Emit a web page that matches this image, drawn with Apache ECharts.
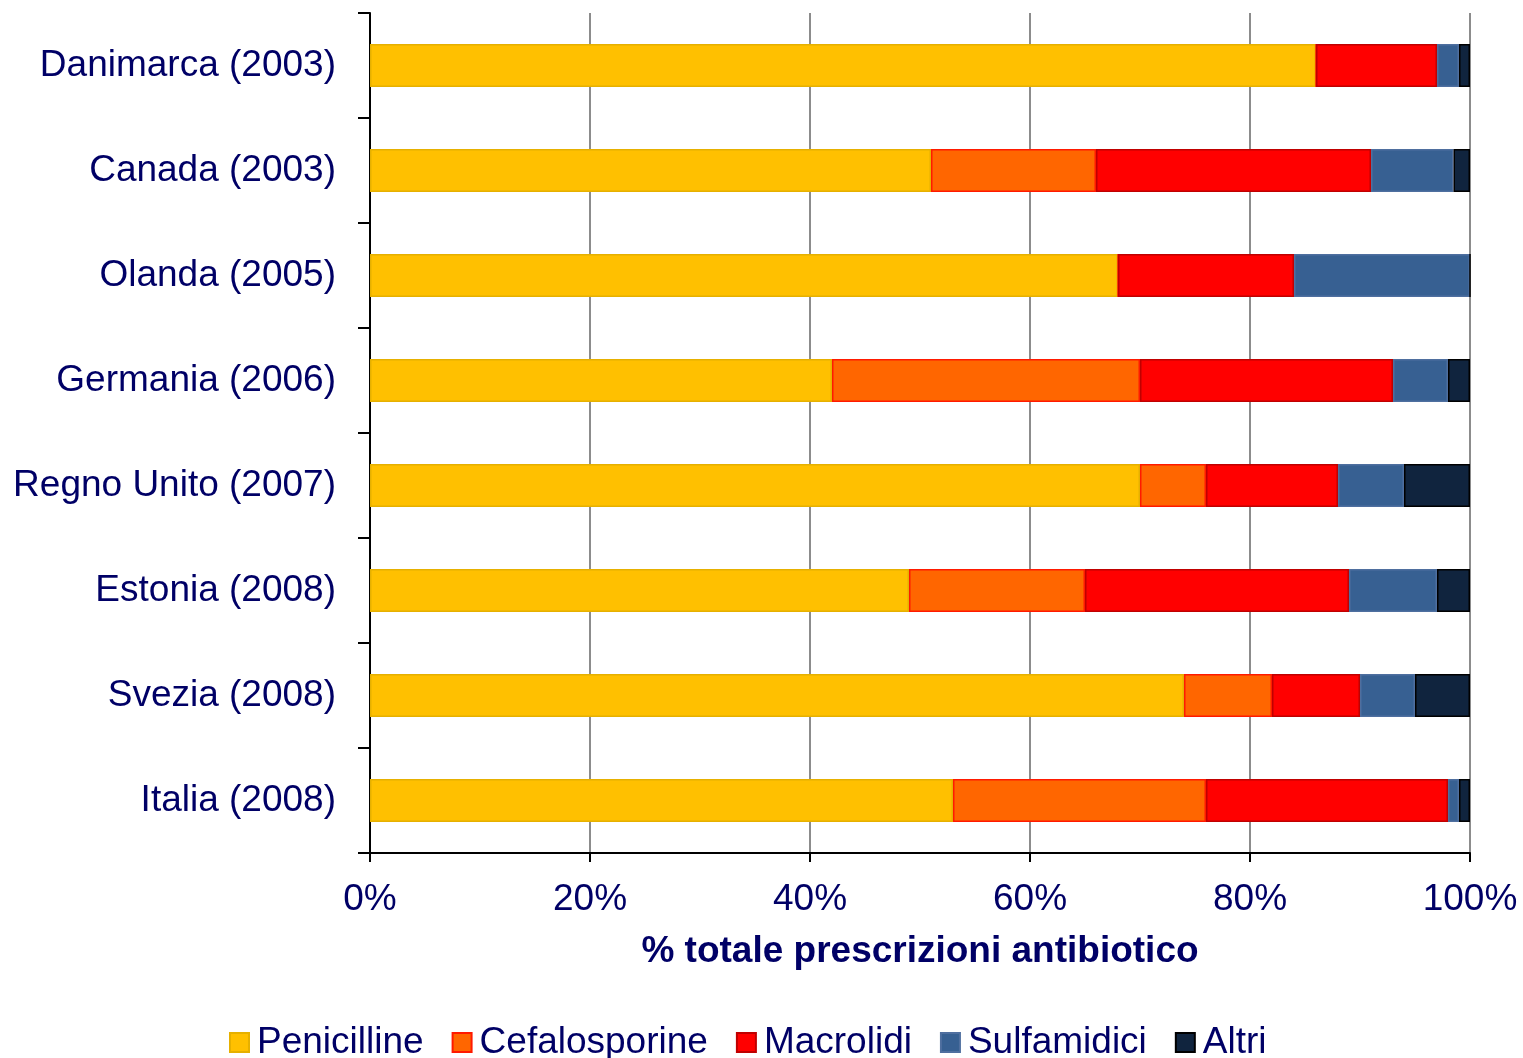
<!DOCTYPE html>
<html>
<head>
<meta charset="utf-8">
<script src="https://cdn.jsdelivr.net/npm/echarts@6/dist/echarts.min.js"></script>
<style>
  html, body { margin: 0; padding: 0; background: #fff; }
  #chart { width: 1523px; height: 1058px; }
</style>
</head>
<body>
<div id="chart"></div>
<script>
// categories, top to bottom
const paesi = ['Danimarca (2003)', 'Canada (2003)', 'Olanda (2005)', 'Germania (2006)',
  'Regno Unito (2007)', 'Estonia (2008)', 'Svezia (2008)', 'Italia (2008)']

// % of total prescriptions per class
const penicilline   = [86, 51, 68, 42, 70, 49, 74, 53]
const cefalosporine = [0, 15, 0, 28, 6, 16, 8, 23]
const macrolidi     = [11, 25, 16, 23, 12, 24, 8, 22]
const sulfamidici   = [2, 7.5, 16, 5, 6, 8, 5, 1]
const altri         = [1, 1.5, 0, 2, 6, 3, 5, 1]

const xTicks = [0, 20, 40, 60, 80, 100]

const fontFam = 'Liberation Sans, Arial, sans-serif'
const navy = '#000066'
const fs = 37

function serie (name, data, color, border) {
  return {
    name: name,
    type: 'bar',
    stack: 'tot',
    barWidth: 43,
    data: data,
    itemStyle: { color: color, borderColor: border, borderWidth: 1.5 }
  }
}

const chart = echarts.init(document.getElementById('chart'))
chart.setOption({
  animation: false,
  textStyle: { fontFamily: fontFam },
  grid: { left: 370, right: 53, top: 13, bottom: 205, containLabel: false },
  legend: {
    bottom: -8,
    left: 224,
    itemWidth: 19,
    itemHeight: 19,
    itemGap: 28,
    icon: 'rect',
    textStyle: { fontSize: fs, color: navy, fontFamily: fontFam, padding: [0, 0, 0, 3] },
    data: ['Penicilline', 'Cefalosporine', 'Macrolidi', 'Sulfamidici', 'Altri']
  },
  xAxis: {
    type: 'value',
    min: 0,
    max: 100,
    interval: 20,
    name: '% totale prescrizioni antibiotico',
    nameLocation: 'middle',
    nameGap: 80,
    nameTextStyle: { fontSize: fs, fontWeight: 'bold', color: navy, fontFamily: fontFam },
    axisLine: { show: true, lineStyle: { color: '#000', width: 2 } },
    axisTick: { show: true, length: 9, lineStyle: { color: '#000', width: 2 } },
    axisLabel: {
      fontSize: fs, color: navy, margin: 28, fontFamily: fontFam,
      formatter: v => xTicks.includes(v) ? v + '%' : ''
    },
    splitLine: { show: true, lineStyle: { color: '#8c8c8c', width: 2 } }
  },
  yAxis: {
    type: 'category',
    inverse: true,
    data: paesi,
    axisLine: { show: true, lineStyle: { color: '#000', width: 2 } },
    axisTick: { show: true, length: 12, alignWithLabel: false, lineStyle: { color: '#000', width: 2 } },
    axisLabel: { fontSize: fs, color: navy, margin: 34, fontFamily: fontFam, padding: [5, 0, 0, 0] }
  },
  series: [
    serie('Penicilline', penicilline, '#FFC000', '#E6B000'),
    serie('Cefalosporine', cefalosporine, '#FF6600', '#FF1a00'),
    serie('Macrolidi', macrolidi, '#FF0000', '#C00000'),
    serie('Sulfamidici', sulfamidici, '#376092', '#4F6F9F'),
    serie('Altri', altri, '#10243E', '#000000')
  ]
})
</script>
</body>
</html>
